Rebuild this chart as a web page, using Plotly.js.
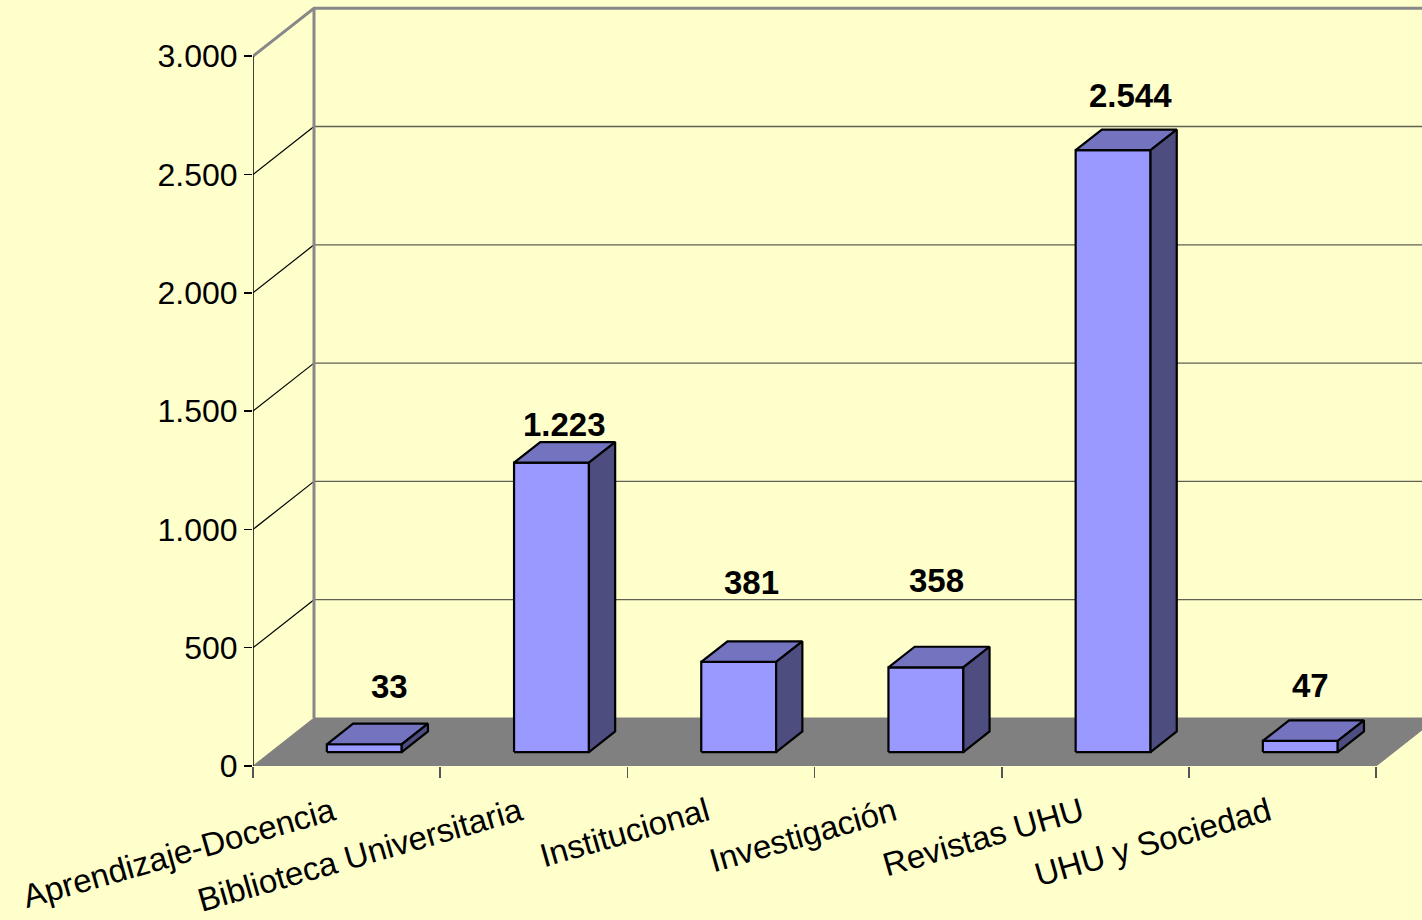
<!DOCTYPE html>
<html><head><meta charset="utf-8">
<script src="https://cdn.plot.ly/plotly-3.0.1.min.js"></script>
<style>html,body{margin:0;padding:0;background:#FFFFCC;}#chart{width:1422px;height:920px;}</style>
</head><body><div id="chart"></div>
<script>
// ---- data ----
const categories = ["Aprendizaje-Docencia", "Biblioteca Universitaria", "Institucional", "Investigación", "Revistas UHU", "UHU y Sociedad"];
const values = [33, 1223, 381, 358, 2544, 47];
const yTicks = [0, 500, 1000, 1500, 2000, 2500, 3000];

// ---- geometry / style ----
const W = 1422, H = 920, ML = 253, MB = 154;
const PX_PER_X = 187.2, PX_PER_Y = 0.2366;
const WALL_DX_PX = 61, WALL_DY_PX = 48;
const BAR_FRONT = 0.29, BAR_DEPTH = 0.43, BAR_W = 0.40;
const LABEL_GAP = 55;
const labelNudgeY = [3, -17, 24, 32, 0, 0];
const labelNudgeX = [12, 0, 0, -3, 4, -3];
const CAT_LABEL_SHIFT_PX = -14;
const C_FRONT = '#9999FF', C_TOP = '#7373BF', C_SIDE = '#4D4D80', C_FLOOR = '#808080';
const FONT = '"Liberation Sans", Arial, sans-serif';

const WX = WALL_DX_PX / PX_PER_X, WY = WALL_DY_PX / PX_PER_Y;
const X0 = -0.5, X1 = categories.length - 0.5;
const XMAX = X0 + (W - ML) / PX_PER_X;
const YMAX = (H - MB) / PX_PER_Y;
const YTOP = yTicks[yTicks.length - 1];
const fmt = v => String(v).replace(/\B(?=(\d{3})+(?!\d))/g, '.');

const traces = [];
// floor
traces.push({x: [X0, X1, X1 + WX, X0 + WX, X0], y: [0, 0, WY, WY, 0], mode: 'lines', fill: 'toself',
  fillcolor: C_FLOOR, line: {color: C_FLOOR, width: 1}, hoverinfo: 'skip'});
// back wall gridlines + diagonals
(function () {
  const gx = [], gy = [], dx = [], dy = [];
  yTicks.forEach(v => {
    if (v === 0 || v === YTOP) return;
    gx.push(X0 + WX, XMAX + 1, null); gy.push(v + WY, v + WY, null);
    dx.push(X0, X0 + WX, null); dy.push(v, v + WY, null);
  });
  traces.push({x: gx, y: gy, mode: 'lines', line: {color: '#5f5f55', width: 1.3}, hoverinfo: 'skip'});
  traces.push({x: dx, y: dy, mode: 'lines', line: {color: '#000', width: 1.2}, hoverinfo: 'skip'});
})();
// wall frame
traces.push({x: [X0, X0 + WX, XMAX + 1], y: [YTOP, YTOP + WY, YTOP + WY], mode: 'lines',
  line: {color: '#888', width: 3}, hoverinfo: 'skip'});
traces.push({x: [X0 + WX, X0 + WX], y: [WY, YTOP + WY], mode: 'lines',
  line: {color: '#888', width: 3}, hoverinfo: 'skip'});
// front axis line
traces.push({x: [X0, X0], y: [0, YTOP], mode: 'lines', line: {color: '#000', width: 1.5}, hoverinfo: 'skip'});

// bars
const annotations = [];
values.forEach((v, i) => {
  const cx = i + BAR_FRONT * WX;
  const yb = BAR_FRONT * WY, yt = yb + v;
  const x0 = cx - BAR_W / 2, x1 = cx + BAR_W / 2;
  const ddx = BAR_DEPTH * WX, ddy = BAR_DEPTH * WY;
  const ln = {color: '#000', width: 2.2};
  traces.push({x: [x0, x1, x1, x0, x0], y: [yb, yb, yt, yt, yb], mode: 'lines', fill: 'toself', fillcolor: C_FRONT, line: ln, hoverinfo: 'skip'});
  traces.push({x: [x0, x1, x1 + ddx, x0 + ddx, x0], y: [yt, yt, yt + ddy, yt + ddy, yt], mode: 'lines', fill: 'toself', fillcolor: C_TOP, line: ln, hoverinfo: 'skip'});
  traces.push({x: [x1, x1 + ddx, x1 + ddx, x1, x1], y: [yb, yb + ddy, yt + ddy, yt, yb], mode: 'lines', fill: 'toself', fillcolor: C_SIDE, line: ln, hoverinfo: 'skip'});
  annotations.push({x: cx + ddx / 2, y: yt, xref: 'x', yref: 'y', text: '<b>' + fmt(v) + '</b>', showarrow: false,
    xanchor: 'center', yanchor: 'middle', yshift: LABEL_GAP + labelNudgeY[i], xshift: labelNudgeX[i],
    font: {family: FONT, size: 33, color: '#000'}});
});

const boundaries = categories.map((c, i) => i - 0.5).concat([X1]);

const layout = {
  width: W, height: H,
  paper_bgcolor: '#FFFFCC', plot_bgcolor: '#FFFFCC',
  margin: {l: ML, r: 0, t: 0, b: MB, pad: 0},
  showlegend: false,
  separators: ',.',
  font: {family: FONT, color: '#000'},
  xaxis: {range: [X0, XMAX], tickmode: 'array',
    tickvals: categories.map((c, i) => i + CAT_LABEL_SHIFT_PX / PX_PER_X), ticktext: categories,
    tickangle: -16, ticks: '', showgrid: false, zeroline: false, showline: false,
    tickfont: {family: FONT, size: 33, color: '#000'}, ticklabelstandoff: 20,
    minor: {tickmode: 'array', tickvals: boundaries, ticks: 'outside', ticklen: 11, tickcolor: '#555', tickwidth: 1.5, showgrid: false},
    fixedrange: true},
  yaxis: {range: [0, YMAX], tickmode: 'array', tickvals: yTicks, tickformat: ',d', ticks: 'outside', ticklen: 8,
    tickcolor: '#000', tickwidth: 1.5, showgrid: false, zeroline: false, showline: false,
    tickfont: {family: FONT, size: 32, color: '#000'}, fixedrange: true},
  annotations: annotations
};

Plotly.newPlot('chart', traces, layout, {staticPlot: true, displayModeBar: false});
</script>
</body></html>
